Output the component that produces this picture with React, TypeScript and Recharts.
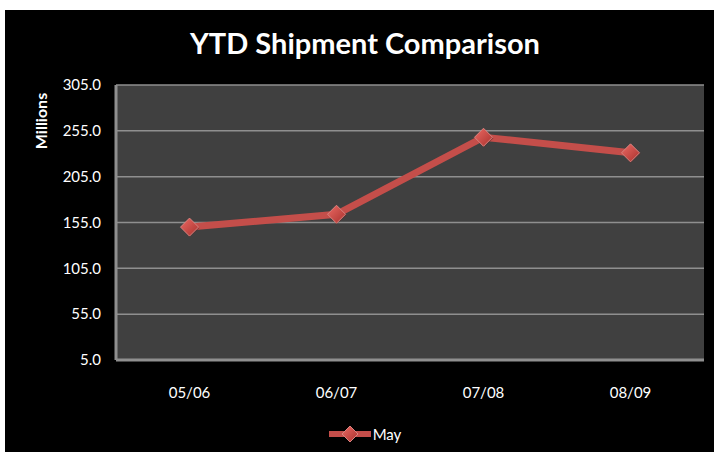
import React from 'react';
import { LineChart, Line, XAxis, YAxis, CartesianGrid, Legend } from 'recharts';

const categories = ['05/06', '06/07', '07/08', '08/09'];
const mayValues = [150, 164, 248, 231];
const yTicks = [5, 55, 105, 155, 205, 255, 305];
const seriesName = 'May';
const chartTitle = 'YTD Shipment Comparison';
const yAxisTitle = 'Millions';

const data = categories.map((c, i) => ({ period: c, May: mayValues[i] }));

const FONT = 'Lato, "Open Sans", sans-serif';
const RED = '#c44e4a';

const Diamond = (props: any) => {
  const { cx, cy } = props;
  if (cx == null || cy == null) return null;
  const r = 9;
  return (
    <g>
      <path d={`M${cx},${cy - r + 1} L${cx + r + 1},${cy + 1} L${cx},${cy + r + 1} L${cx - r + 1},${cy + 1} Z`} fill="#6a2a28" opacity={0.6} />
      <path d={`M${cx},${cy - r} L${cx + r},${cy} L${cx},${cy + r} L${cx - r},${cy} Z`} fill="url(#diamondGrad)" stroke="#d88480" strokeWidth={1} />
    </g>
  );
};

const LegendContent = () => (
  <div style={{ display: 'flex', justifyContent: 'center', alignItems: 'center', height: 30 }}>
    <svg width={42} height={20} style={{ marginRight: 2 }}>
      <line x1={1} y1={10} x2={41} y2={10} stroke={RED} strokeWidth={6} strokeLinecap="round" />
      <path d="M21,2 L29,10 L21,18 L13,10 Z" fill="url(#diamondGrad2)" stroke="#d88480" strokeWidth={1} />
      <defs>
        <linearGradient id="diamondGrad2" x1="0" y1="0" x2="1" y2="1">
          <stop offset="0%" stopColor="#ec6a64" />
          <stop offset="100%" stopColor="#a8312d" />
        </linearGradient>
      </defs>
    </svg>
    <span style={{ color: '#ffffff', fontFamily: FONT, fontSize: 15 }}>{seriesName}</span>
  </div>
);

export default function App() {
  return (
    <div style={{ position: 'absolute', left: 0, top: 0, width: 714, height: 452, background: '#ffffff', overflow: 'hidden' }}>
      <div style={{ position: 'absolute', left: 5, top: 10, width: 709, height: 442, background: '#000000' }} />
      <div style={{ position: 'absolute', left: 0, top: 25, width: 730, textAlign: 'center', color: '#ffffff', fontFamily: FONT, fontWeight: 700, fontSize: 29 }}>
        {chartTitle}
      </div>
      <div style={{ position: 'absolute', left: 40, top: 121, width: 0, height: 0 }}>
        <div style={{ position: 'absolute', transform: 'translate(-50%, -50%) rotate(-90deg)', color: '#ffffff', fontFamily: FONT, fontWeight: 700, fontSize: 16, whiteSpace: 'nowrap' }}>
          {yAxisTitle}
        </div>
      </div>
      <div style={{ position: 'absolute', left: 0, top: 0 }}>
        <LineChart width={714} height={452} data={data} margin={{ top: 85, right: 10, left: 56, bottom: 3 }}>
          <defs>
            <linearGradient id="diamondGrad" x1="0" y1="0" x2="1" y2="1">
              <stop offset="0%" stopColor="#ec6a64" />
              <stop offset="100%" stopColor="#a8312d" />
            </linearGradient>
          </defs>
          <CartesianGrid vertical={false} fill="#404040" stroke="#8f8f8f" strokeWidth={1.5} />
          <XAxis
            dataKey="period"
            height={59}
            tickSize={0}
            tickMargin={27}
            padding={{ left: 73.5, right: 73.5 }}
            axisLine={{ stroke: '#8f8f8f', strokeWidth: 3 }}
            tick={{ fill: '#ffffff', fontFamily: FONT, fontSize: 15 }}
          />
          <YAxis
            domain={[5, 305]}
            ticks={yTicks}
            width={60}
            tickSize={0}
            tickMargin={15}
            interval={0}
            tickFormatter={(v: number) => v.toFixed(1)}
            axisLine={{ stroke: '#8f8f8f', strokeWidth: 3 }}
            tick={{ fill: '#ffffff', fontFamily: FONT, fontSize: 15 }}
          />
          <Legend verticalAlign="bottom" height={30} wrapperStyle={{ left: 0, width: 730 }} content={<LegendContent />} />
          <Line
            type="linear"
            dataKey="May"
            name={seriesName}
            stroke={RED}
            strokeWidth={7}
            dot={<Diamond />}
            activeDot={false}
            isAnimationActive={false}
          />
        </LineChart>
      </div>
    </div>
  );
}
